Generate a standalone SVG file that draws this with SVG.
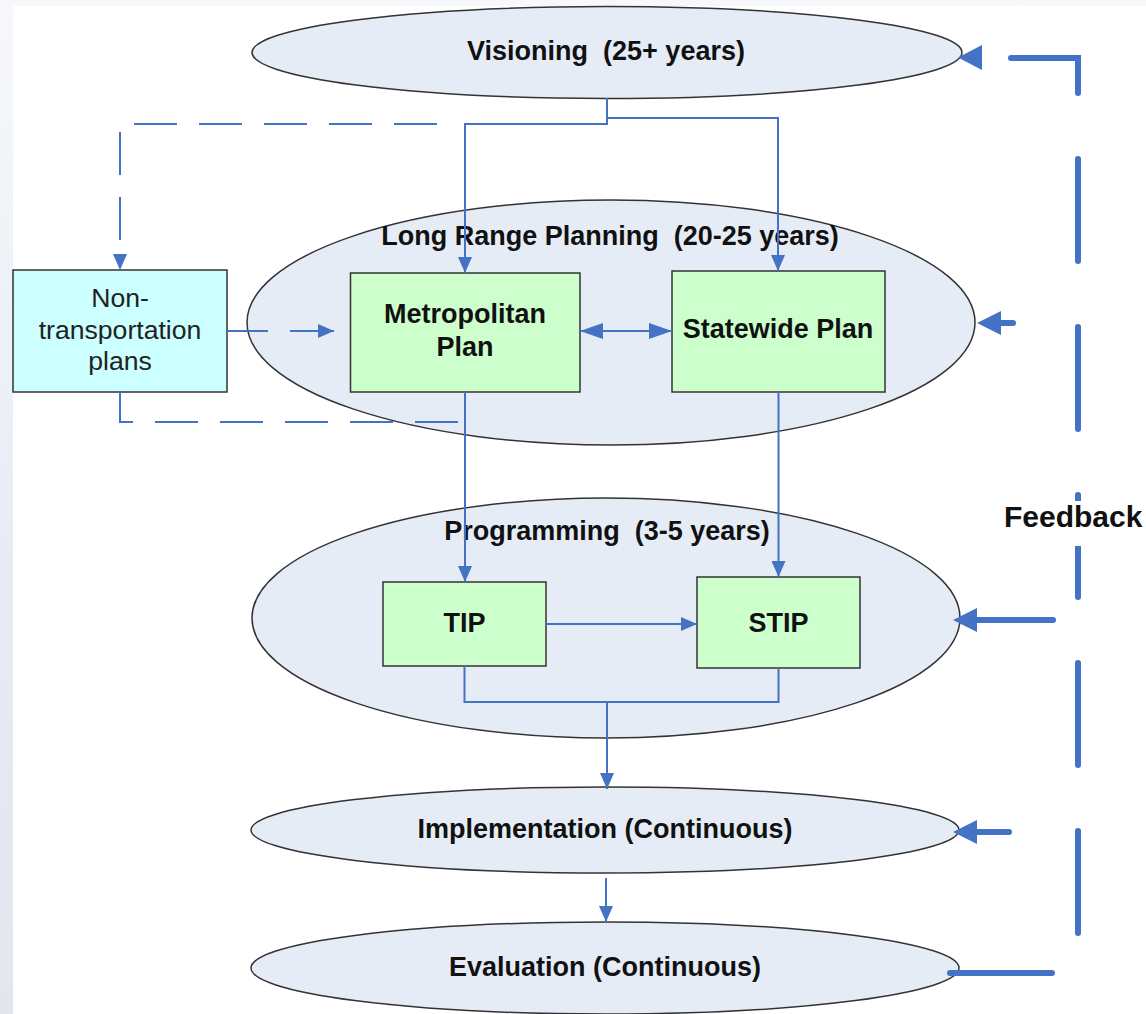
<svg xmlns="http://www.w3.org/2000/svg" width="1146" height="1014" viewBox="0 0 1146 1014">
  <style>
    .phase { fill: #e6ecf6; stroke: #333333; stroke-width: 1.5; }
    .plan { fill: #ccffcc; stroke: #333333; stroke-width: 1.5; }
    .other { fill: #ccffff; stroke: #333333; stroke-width: 1.5; }
    .lbl { font-family: "Liberation Sans", Arial, sans-serif; font-size: 27px; font-weight: bold; fill: #111111; text-anchor: middle; }
    .reg { font-family: "Liberation Sans", Arial, sans-serif; font-size: 26.6px; fill: #222222; text-anchor: middle; }
    .flow { fill: none; stroke: #4472c4; stroke-width: 2; }
    .dash { fill: none; stroke: #4472c4; stroke-width: 2; stroke-dasharray: 43 22; }
    .fb { fill: none; stroke: #4472c4; stroke-width: 6; stroke-linecap: round; }
    .head { fill: #4472c4; }
  </style>
  <defs>
    <linearGradient id="frame" x1="0" y1="0" x2="0" y2="1">
      <stop offset="0" stop-color="#f6f8fb"/>
      <stop offset="0.6" stop-color="#e6ebf4"/>
      <stop offset="1" stop-color="#e2e7ee"/>
    </linearGradient>
    <marker id="arr" markerUnits="userSpaceOnUse" markerWidth="16" markerHeight="14" refX="16" refY="7" orient="auto-start-reverse">
      <path d="M0,0 L16,7 L0,14 z" fill="#4472c4"/>
    </marker>
    <marker id="arrBig" markerUnits="userSpaceOnUse" markerWidth="23" markerHeight="16" refX="23" refY="8" orient="auto-start-reverse">
      <path d="M0,0 L23,8 L0,16 z" fill="#4472c4"/>
    </marker>
  </defs>

  <!-- page frame -->
  <rect x="0" y="0" width="1146" height="1014" fill="url(#frame)"/>
  <rect x="13" y="6" width="1133" height="1008" fill="#ffffff"/>

  <!-- planning phases -->
  <g id="visioning">
    <ellipse class="phase" cx="607" cy="52.5" rx="355" ry="46"/>
    <text class="lbl" x="606" y="60" xml:space="preserve">Visioning  (25+ years)</text>
  </g>
  <g id="long-range">
    <ellipse class="phase" cx="611" cy="322.5" rx="364" ry="122.5"/>
    <text class="lbl" x="610" y="245" xml:space="preserve">Long Range Planning  (20-25 years)</text>
  </g>
  <g id="programming">
    <ellipse class="phase" cx="606" cy="618" rx="354" ry="120"/>
    <text class="lbl" x="607" y="540" xml:space="preserve">Programming  (3-5 years)</text>
  </g>
  <g id="implementation">
    <ellipse class="phase" cx="605" cy="830" rx="354" ry="43"/>
    <text class="lbl" x="605" y="838">Implementation (Continuous)</text>
  </g>
  <g id="evaluation">
    <ellipse class="phase" cx="605" cy="968" rx="354" ry="46"/>
    <text class="lbl" x="605" y="976">Evaluation (Continuous)</text>
  </g>

  <!-- plan boxes -->
  <g id="non-transportation">
    <rect class="other" x="13" y="270" width="214" height="122"/>
    <text class="reg" x="120" y="307">Non-</text>
    <text class="reg" x="120" y="339">transportation</text>
    <text class="reg" x="120" y="370">plans</text>
  </g>
  <g id="metropolitan-plan">
    <rect class="plan" x="350.5" y="273" width="229.5" height="119"/>
    <text class="lbl" x="465" y="323">Metropolitan</text>
    <text class="lbl" x="465" y="356">Plan</text>
  </g>
  <g id="statewide-plan">
    <rect class="plan" x="672" y="271" width="213" height="121"/>
    <text class="lbl" x="778" y="338">Statewide Plan</text>
  </g>
  <g id="tip">
    <rect class="plan" x="383" y="582" width="163" height="84"/>
    <text class="lbl" x="464.5" y="632">TIP</text>
  </g>
  <g id="stip">
    <rect class="plan" x="697" y="577" width="163" height="91"/>
    <text class="lbl" x="778.5" y="632">STIP</text>
  </g>

  <!-- connectors -->
  <g id="connectors">
    <!-- visioning down to the two long range plans -->
    <path class="flow" d="M607,98 V124 H465 V273" marker-end="url(#arr)"/>
    <path class="flow" d="M607,118 H778 V271" marker-end="url(#arr)"/>
    <!-- visioning to non-transportation plans (dashed) -->
    <path class="dash" d="M437,124 H120 V254"/>
    <path class="head" d="M113,254 L127,254 L120,270 z"/>
    <!-- non-transportation plans to metropolitan plan -->
    <path class="flow" d="M227,331 H334" style="stroke-dasharray:41 22 60" marker-end="url(#arr)"/>
    <path class="dash" d="M120,392 V422 H458"/>
    <!-- metropolitan <-> statewide -->
    <path class="flow" d="M580,331 H672" marker-start="url(#arrBig)" marker-end="url(#arrBig)"/>
    <!-- long range plans down to programs -->
    <path class="flow" d="M465,392 V582" marker-end="url(#arr)"/>
    <path class="flow" d="M778.5,392 V577" marker-end="url(#arr)"/>
    <!-- TIP to STIP -->
    <path class="flow" d="M546,624 H697" marker-end="url(#arr)"/>
    <!-- programs merge into implementation -->
    <path class="flow" d="M464.5,666 V702 H778.5 V668"/>
    <path class="flow" d="M607,702 V789" marker-end="url(#arr)"/>
    <!-- implementation to evaluation -->
    <path class="flow" d="M606,878 V922" marker-end="url(#arr)"/>

    <!-- feedback loop -->
    <path class="fb" d="M950,973 H1078 V58 H1005" style="stroke-dasharray:102 66"/>
    <path class="head" d="M958,57.5 L982,45 L982,70 z"/>
    <path class="fb" d="M998,323 H1013"/>
    <path class="head" d="M977,323 L1001,311 L1001,335 z"/>
    <path class="fb" d="M975,620 H1053"/>
    <path class="head" d="M953,620 L977,608 L977,632 z"/>
    <path class="fb" d="M975,832 H1009"/>
    <path class="head" d="M953,832 L977,820 L977,844 z"/>
  </g>

  <!-- feedback label -->
  <g id="feedback-label">
    <rect x="1000" y="501" width="146" height="45" fill="#ffffff"/>
    <text x="1004" y="527" font-family="Liberation Sans, Arial, sans-serif" font-size="30" font-weight="bold" fill="#111111">Feedback</text>
  </g>
</svg>
